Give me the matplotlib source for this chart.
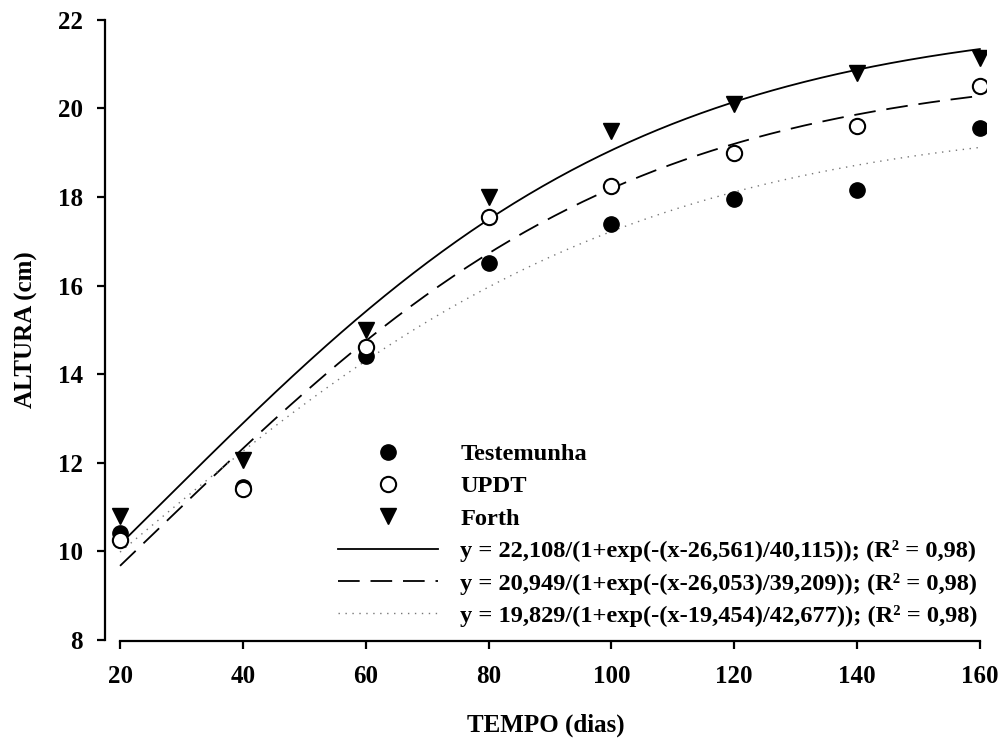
import numpy as np
import matplotlib
matplotlib.use("Agg")
import matplotlib.pyplot as plt

plt.rcParams['font.family'] = ['Liberation Serif', 'DejaVu Serif']
plt.rcParams['font.weight'] = 'bold'

# dados observados
dias = [20, 40, 60, 80, 100, 120, 140, 160]
testemunha = [10.4, 11.45, 14.4, 16.5, 17.4, 17.95, 18.15, 19.55]
updt = [10.25, 11.4, 14.6, 17.55, 18.25, 19.0, 19.6, 20.5]
forth = [10.8, 12.05, 15.0, 18.0, 19.5, 20.1, 20.8, 21.15]

# parametros dos modelos ajustados (a, x0, b) - como na legenda
par_forth = [22.108, 26.561, 40.115]
par_updt = [20.949, 26.053, 39.209]
par_test = [19.829, 19.454, 42.677]
r2 = ["0,98", "0,98", "0,98"]


def fmt(v):
    return f"{v:.3f}".replace(".", ",")


def rotulo(p, r):
    return f"y = {fmt(p[0])}/(1+exp(-(x-{fmt(p[1])})/{fmt(p[2])})); (R² = {r})"


def modelo(x, p):
    return p[0] / (1 + np.exp(-(x - p[1]) / p[2]))


fig = plt.figure(figsize=(10.07, 7.4), dpi=100)
ax = fig.add_axes([105 / 1007, 1 - 641 / 740, (986 - 105) / 1007, (641 - 19) / 740])

ms = 11
ax.plot(dias, testemunha, 'o', color='black', ms=ms, label='Testemunha', zorder=3)
ax.plot(dias, updt, 'o', mfc='white', mec='black', mew=1.5, ms=ms, label='UPDT', zorder=3)
ax.plot(dias, forth, 'v', color='black', ms=ms + 1, label='Forth', zorder=3)

xs = np.linspace(20, 160, 300)
ax.plot(xs, modelo(xs, par_forth), '-', color='black', lw=1.3, label=rotulo(par_forth, r2[0]))
ax.plot(xs, modelo(xs, par_updt), color='black', lw=1.3, ls=(0, (12, 6)),
        label=rotulo(par_updt, r2[1]))
ax.plot(xs, modelo(xs, par_test), color='#777777', lw=1.0, ls=(0, (1, 4)),
        label=rotulo(par_test, r2[2]))

ax.set_xlim(17.55, 161)
ax.set_ylim(7.97, 22.02)
ax.set_xticks(dias)
ax.set_yticks([8, 10, 12, 14, 16, 18, 20, 22])
ax.spines['top'].set_visible(False)
ax.spines['right'].set_visible(False)
ax.spines['left'].set_bounds(8, 22)
ax.spines['bottom'].set_bounds(20, 160)
for s in ['left', 'bottom']:
    ax.spines[s].set_linewidth(1.6)
ax.tick_params(axis='both', labelsize=18, width=1.6, length=6)
ax.tick_params(axis='x', pad=11)
ax.tick_params(axis='y', pad=10)

ax.set_xlabel('TEMPO (dias)', fontsize=18, fontweight='bold', labelpad=19)
ax.set_ylabel('ALTURA (cm)', fontsize=18, fontweight='bold', labelpad=14)

leg = ax.legend(loc='upper left', bbox_to_anchor=(338 / 1007, 1 - 443 / 740),
                bbox_transform=fig.transFigure, frameon=False,
                handlelength=4.1, handletextpad=0.9, borderpad=0, borderaxespad=0,
                labelspacing=0.42, prop={'weight': 'bold', 'size': 17.6})

fig.savefig('out.png', dpi=100)
